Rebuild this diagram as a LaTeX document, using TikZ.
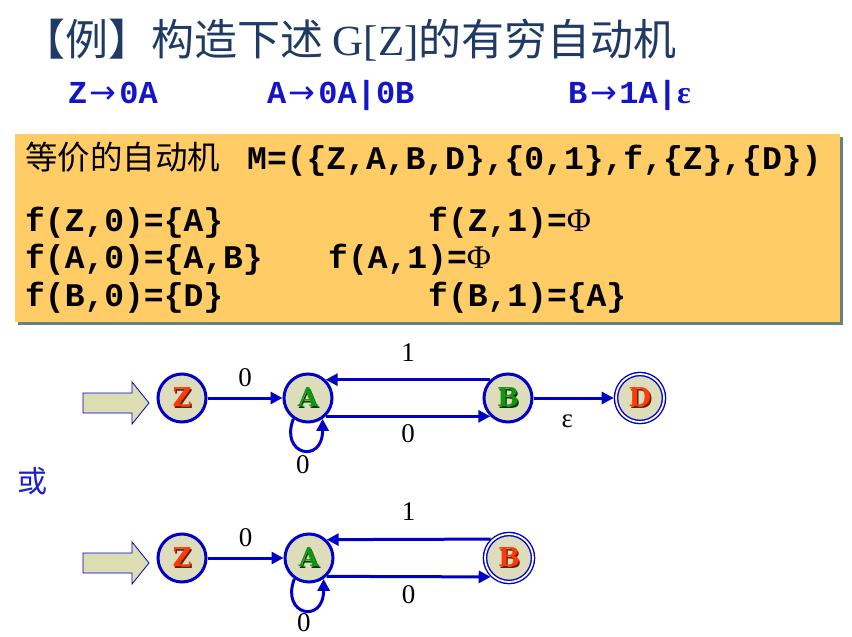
\documentclass[tikz,border=0pt]{standalone}
\usepackage{fontspec}
\setmainfont{Liberation Serif}
\setmonofont{Liberation Mono}
\newfontfamily\cjk{Noto Sans CJK SC}
\newfontfamily\nodefnt{DejaVu Serif}
\newfontfamily\symfnt{DejaVu Sans}
\usetikzlibrary{arrows.meta}
\definecolor{titleblue}{RGB}{31,58,100}
\definecolor{gramblue}{RGB}{20,20,200}
\definecolor{edgeblue}{RGB}{0,0,200}
\definecolor{orblue}{RGB}{30,30,200}
\definecolor{boxfill}{RGB}{255,204,102}
\definecolor{boxshadow}{RGB}{100,130,130}
\definecolor{nodefill}{RGB}{221,221,187}
\definecolor{arrowfill}{RGB}{221,221,180}
\definecolor{zred}{RGB}{250,60,10}
\definecolor{zredd}{RGB}{110,30,10}
\definecolor{agreen}{RGB}{20,150,20}
\definecolor{agreend}{RGB}{0,60,0}
\newcommand\shadl[3]{\rlap{\hspace{1.3pt}\raisebox{-1.3pt}{\textcolor{#2}{#3}}}\textcolor{#1}{#3}}
\newcommand\garrow{\makebox[1em]{\symfnt\mdseries →}}
\begin{document}
\begin{tikzpicture}[x=1pt,y=1pt,
  gram/.style={anchor=base west, inner sep=0pt, text=gramblue,
    font=\fontsize{32}{32}\selectfont\ttfamily\bfseries},
  boxtxt/.style={anchor=base west, inner sep=0pt, text=black,
    font=\fontsize{33}{33}\selectfont\ttfamily\bfseries},
  state/.style={circle, draw=edgeblue, line width=3pt, fill=nodefill,
    minimum size=48pt, inner sep=0pt,
    font=\nodefnt\bfseries\fontsize{26}{26}\selectfont},
  accept/.style={circle, draw=edgeblue, line width=1.4pt, double=white,
    double distance=1.8pt, fill=nodefill, minimum size=48pt, inner sep=0pt,
    outer sep=2.3pt, font=\nodefnt\bfseries\fontsize{26}{26}\selectfont},
  startarrow/.style={draw=edgeblue, line width=0.8pt, fill=arrowfill, line join=miter},
  edge/.style={draw=edgeblue, line width=3pt,
    -{Triangle[length=12pt,width=12pt]}},
  lab/.style={inner sep=0pt, text=black, font=\fontsize{27}{27}\selectfont\rmfamily}
]
\useasboundingbox (0,0) rectangle (852,-637);
\fill[white] (0,0) rectangle (852,-637);

% title
\node[anchor=base west, inner sep=0pt, text=titleblue] (title) at (22,-55)
  {\fontsize{43}{43}\selectfont\cjk 【例】构造下述 \rmfamily G[Z]\cjk 的有穷自动机};

% grammar
\node[gram] (g1) at (68,-103) {Z\garrow 0A};
\node[gram] (g2) at (267,-103) {A\garrow 0A|0B};
\node[gram] (g3) at (568,-103) {B\garrow 1A|{\rmfamily ε}};

% orange box
\fill[boxshadow] (18,-137) rectangle (843,-325);
\fill[boxfill] (15,-134) rectangle (840,-322);
\node[anchor=base west, inner sep=0pt, text=black] (m0) at (25,-169)
  {\fontsize{32.5}{32.5}\selectfont\cjk 等价的自动机};
\node[boxtxt] (m1) at (247,-169) {M=(\{Z,A,B,D\},\{0,1\},f,\{Z\},\{D\})};
\node[boxtxt] (r1a) at (25,-231) {f(Z,0)=\{A\}};
\node[boxtxt] (r1b) at (428,-231) {f(Z,1)={\rmfamily\mdseries Φ}};
\node[boxtxt] (r2a) at (25,-268) {f(A,0)=\{A,B\}};
\node[boxtxt] (r2b) at (328,-268) {f(A,1)={\rmfamily\mdseries Φ}};
\node[boxtxt] (r3a) at (25,-306) {f(B,0)=\{D\}};
\node[boxtxt] (r3b) at (428,-306) {f(B,1)=\{A\}};

% diagram 1
\coordinate (s1) at (116,-403);
\draw[startarrow, shift={(s1)}] (-33,10) -- (16,10) -- (16,21) -- (33,0)
  -- (16,-21) -- (16,-10) -- (-33,-10) -- cycle;
\node[state] (z1) at (182,-398) {\shadl{zred}{zredd}{Z}};
\node[state] (a1) at (308,-398) {\shadl{agreen}{agreend}{A}};
\node[state] (b1) at (508,-398) {\shadl{agreen}{agreend}{B}};
\node[accept] (d1) at (640,-398) {\shadl{zred}{zredd}{D}};
\draw[edge] (z1) -- node[lab, above=10pt] {0} (a1);
\draw[edge] (b1.134) -- node[lab, above=17pt] {1} (a1.46);
\draw[edge] (a1.-46) -- node[lab, below=7pt] {0} (b1.-134);
\draw[edge] (b1) -- node[lab, below=15pt, pos=0.42] {ε} (d1);
\draw[edge] (a1.235) .. controls +(-14,-36) and +(0,-46) .. node[lab, below=4pt] {0} (a1.305);

% or
\node[anchor=base west, inner sep=0pt, text=orblue] (huo) at (17,-492)
  {\fontsize{30}{30}\selectfont\cjk 或};

% diagram 2
\coordinate (s2) at (116,-563);
\draw[startarrow, shift={(s2)}] (-33,10) -- (16,10) -- (16,21) -- (33,0)
  -- (16,-21) -- (16,-10) -- (-33,-10) -- cycle;
\node[state] (z2) at (182,-558) {\shadl{zred}{zredd}{Z}};
\node[state] (a2) at (309,-558) {\shadl{agreen}{agreend}{A}};
\node[accept] (b2) at (509,-558) {\shadl{zred}{zredd}{B}};
\draw[edge] (z2) -- node[lab, above=10pt] {0} (a2);
\draw[edge] (b2.134) -- node[lab, above=17pt] {1} (a2.46);
\draw[edge] (a2.-46) -- node[lab, below=7pt] {0} (b2.-134);
\draw[edge] (a2.235) .. controls +(-14,-36) and +(0,-46) .. node[lab, below=2pt] {0} (a2.305);
\end{tikzpicture}
\end{document}
